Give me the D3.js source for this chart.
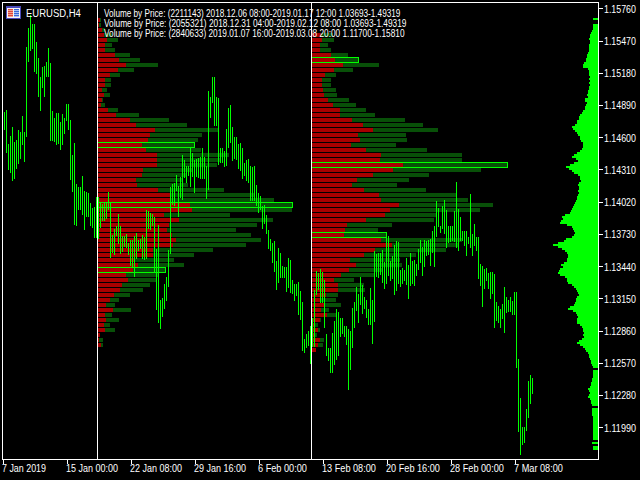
<!DOCTYPE html>
<html><head><meta charset="utf-8">
<style>html,body{margin:0;padding:0;background:#000;overflow:hidden}svg{display:block}</style>
<script src="https://cdn.jsdelivr.net/npm/d3@7/dist/d3.min.js"></script>
</head><body><svg id="c" width="640" height="480"></svg>
<script>
// OHLC bar extremes, price in points (1e-5)
const highs=[114827,114845,114539,114611,114692,114557,114575,114665,114647,114791,114647,115412,115583,115700,115619,115619,115457,115313,115142,115232,115241,115277,115403,115268,114836,114773,114818,114818,114737,114809,114773,114899,114899,114755,114440,114548,114179,114152,114152,114251,114116,114107,114098,114008,113963,113972,114062,
114062,114008,113999,114008,114008,114107,114008,113720,113774,113801,113909,113801,113711,113711,113729,113648,113675,113675,113711,113738,113675,113684,113720,113702,113945,113936,113918,113909,113882,113594,113810,113135,113153,113279,113342,113585,114152,114179,114188,114260,114161,114242,114440,114395,114341,114341,114503,114458,114395,114404,114413,114422,114503,114422,114341,115016,114962,115142,115142,114962,114953,114503,114503,114476,114674,114863,114890,114692,114602,114602,114539,114548,114503,114368,114395,114404,114341,114332,114341,114170,114098,114071,113981,113990,113900,113765,113684,113648,113666,113486,113603,113558,113441,113432,113432,113513,113495,113315,113279,113279,113297,113216,113117,112784,112829,112856,112901,112973,
113225,113396,113378,113414,113387,113315,112829,112703,112703,112838,112946,113054,113027,112973,112973,112901,112901,112874,112856,113063,113117,113252,113189,113342,113270,113162,113135,113054,113243,113135,113576,113549,113558,113558,113585,113477,113711,113711,113486,113531,113630,113666,113657,113405,113423,113405,113513,113450,113558,113486,113495,113459,113594,113675,113612,113675,113666,113675,113684,113756,113801,114026,113963,113801,113981,114035,113945,113801,113801,113801,113936,114197,113954,113882,113756,113756,113756,113702,114089,113729,113819,113702,113702,113459,113441,113414,113423,113378,113387,113387,113369,113117,113081,113054,113099,113252,113162,113135,113162,113126,113207,113207,112604,112253,111992,111992,112154,112406,112460,112433];
const lows=[114674,114467,114314,114287,114215,114233,114323,114368,114413,114539,114386,114611,115286,115385,115403,115196,115178,114971,114845,115052,114971,115151,115151,114575,114575,114566,114539,114548,114494,114539,114638,114755,114674,114224,114116,113819,113810,113954,113954,113909,113774,113891,113891,113810,113792,113702,113702,
113693,113792,113855,113855,113873,113954,113522,113567,113549,113720,113648,113558,113576,113621,113612,113549,113450,113441,113351,113513,113585,113603,113513,113504,113513,113783,113774,113810,113396,113054,112937,112883,112991,113063,113135,113261,113558,113999,113990,114125,113891,114062,114044,114242,114197,114260,114161,114251,114107,114251,114242,114233,114233,114233,114053,114134,114782,114917,114710,114710,114359,114377,114377,114341,114350,114512,114557,114395,114413,114404,114323,114305,114233,114260,114215,114197,114035,114035,114035,113990,113927,113954,113783,113828,113738,113603,113585,113477,113396,113234,113297,113342,113342,113342,113216,113252,113207,113198,113135,113180,113009,112964,112685,112667,112712,112730,112568,112721,
112721,113189,113234,113117,113117,112892,112640,112595,112487,112487,112559,112604,112640,112811,112838,112811,112739,112334,112514,112712,112892,113045,112937,113099,113018,113063,112982,112919,112919,112748,112946,113351,113342,113369,113297,113243,113288,113360,113315,113333,113189,113225,113288,113261,113288,113315,113279,113153,113270,113288,113270,113360,113414,113477,113360,113441,113540,113549,113450,113567,113441,113711,113801,113747,113783,113738,113612,113657,113666,113675,113666,113612,113585,113675,113675,113630,113540,113648,113612,113540,113630,113585,113333,113270,113081,113243,113315,113243,113153,113198,112892,112955,112937,112892,112973,112847,113027,113036,113036,113009,113009,112532,111956,111749,111839,111857,111965,112082,112208,112298];

// Volume-by-price profile 1 (red part and total per price level)
const profileARed=[2,1,4,6,9,7,7,17,21,28,20,12,7,7,4,6,4,3,10,18,32,38,57,52,50,44,48,59,59,59,45,44,38,39,60,72,72,92,94,66,81,71,69,74,78,75,55,55,37,40,35,28,30,24,22,16,12,8,15,7,8,6,7,2,1,3];
const profileATotal=[3,3,7,14,20,14,17,32,42,60,36,22,13,13,9,12,5,7,20,41,71,89,120,104,100,97,103,131,122,119,95,88,85,90,126,156,176,195,194,132,175,159,138,153,163,148,115,96,76,86,68,60,58,52,45,32,21,17,33,14,21,12,17,2,5,5];
// Volume-by-price profile 2
const profileBRed=[9,10,8,8,19,23,31,22,13,10,10,11,12,16,21,28,28,40,51,61,46,48,39,54,69,68,91,81,61,45,40,52,67,69,87,78,73,54,35,33,32,69,80,63,52,38,44,37,29,22,26,26,14,8,12,9,15,8,2,6,2,8,6,4];
const profileBTotal=[21,22,16,19,36,47,67,41,24,19,19,24,25,37,44,54,63,93,111,126,94,95,84,115,150,150,196,169,117,97,85,114,144,156,181,168,125,122,80,66,75,150,146,134,104,88,90,70,62,42,52,53,26,24,29,17,24,9,6,8,5,12,11,4];
// Point-of-control boxes: price points of highlighted levels
const boxesA=[114530,113990,113405], boxesB=[115295,114350,113720];
const boxesATotal=[97,195,68], boxesBTotal=[47,196,75];
const rowTopA=115655, rowTopB=115520, rowStep=45;

// Full-range volume profile on the right edge (one value per 18-point level)
const histTop=115673, histStep=18;
const histVolume=[5,0,0,5,5,5,6,7,8,8,9,8,8,9,9,9,9,10,11,11,12,12,14,15,15,10,9,9,9,8,9,8,9,8,9,9,10,10,11,10,13,13,11,12,13,13,15,16,18,19,19,21,21,23,26,25,23,21,20,18,18,17,15,15,15,16,18,21,24,26,22,20,24,28,32,29,26,24,20,18,18,17,19,20,19,19,20,19,20,21,21,22,23,24,25,26,27,28,33,36,35,37,38,31,26,25,24,23,24,26,32,34,40,45,40,36,33,31,30,30,31,31,34,37,35,38,39,40,38,33,31,31,30,26,24,22,21,20,19,21,22,22,23,24,28,30,25,22,21,20,21,21,21,18,16,15,15,14,15,14,16,19,21,18,15,13,12,10,9,9,8,7,7,6,5,0,5,5,5,5,6,6,7,7,8,10,9,8,9,10,8,7,7,6,0,6,6,6,6,5,5,5,5,5,5,5,5,5,5,5,5,0,6,0,5,5];

const priceTicks=[115760,115470,115180,114890,114600,114310,114020,113730,113440,113150,112860,112570,112280,111990];
const timeTickBars=[-1,31,63,95,127,159,191,223,255];
const timeLabels=["7 Jan 2019","15 Jan 00:00","22 Jan 08:00","29 Jan 16:00","6 Feb 00:00","13 Feb 08:00","20 Feb 16:00","28 Feb 00:00","7 Mar 08:00"];
const timeLabelWidths=[44,52,52,52,49,54,54,54,49];
const titleText="EURUSD,H4";
const legendLines=["Volume by Price: (2211143) 2018.12.06 08:00-2019.01.17 12:00 1.03693-1.49319","Volume by Price: (2055321) 2018.12.31 04:00-2019.02.12 08:00 1.03693-1.49319","Volume by Price: (2840633) 2019.01.07 16:00-2019.03.08 20:00 1.11700-1.15810"];
const legendWidths=[297,303,301];

const FONT='"Liberation Sans",Arial,sans-serif';
const GREEN="#00ff00",RED="#a80000",DARK="#085008",WHITE="#ffffff";
const svg=d3.select("#c");
const x=d3.scaleLinear().domain([0,264]).range([4,532]);
const y=d3.scaleLinear().domain([115760,111990]).range([8.33,427.2]);
const vol=d3.scaleLinear().domain([0,200]).range([0,200]);

// squeeze a text horizontally so that it fills the given width
function fit(node,px,py,width){
  const k=width/node.getComputedTextLength();
  d3.select(node).attr("x",0).attr("y",0).attr("transform",`translate(${px},${py}) scale(${k},1)`);
}

function profile(x0,top,reds,totals){
  const g=svg.append("g").attr("shape-rendering","crispEdges");
  const lv=d3.range(reds.length).map(i=>top-i*rowStep);
  g.selectAll(".t").data(lv).join("rect").attr("x",x0).attr("y",d=>Math.round(y(d))-2).attr("height",4)
    .attr("width",(d,i)=>vol(totals[i])).attr("fill",DARK);
  g.selectAll(".r").data(lv).join("rect").attr("x",x0).attr("y",d=>Math.round(y(d))-2).attr("height",4)
    .attr("width",(d,i)=>vol(reds[i])).attr("fill",RED);
}
profile(98,rowTopA,profileARed,profileATotal);
profile(312,rowTopB,profileBRed,profileBTotal);

// right histogram
const hg=svg.append("g").attr("shape-rendering","crispEdges");
hg.selectAll("rect").data(histVolume).join("rect")
  .attr("x",d=>598-vol(d)).attr("width",d=>vol(d))
  .attr("y",(d,i)=>Math.round(y(histTop-i*histStep))).attr("height",2).attr("fill",GREEN);

// highlight boxes
function boxes(x0,prices,totals){
  svg.append("g").attr("shape-rendering","crispEdges").selectAll("rect").data(prices).join("rect")
    .attr("x",x0-0.5).attr("y",d=>Math.round(y(d))-2.5).attr("height",5)
    .attr("width",(d,i)=>vol(totals[i])).attr("fill","none").attr("stroke",GREEN);
}
boxes(98,boxesA,boxesATotal);
boxes(312,boxesB,boxesBTotal);

// price bars
svg.append("g").attr("shape-rendering","crispEdges").selectAll("line").data(highs).join("line")
  .attr("x1",(d,i)=>x(i)+0.5).attr("x2",(d,i)=>x(i)+0.5)
  .attr("y1",d=>Math.round(y(d))).attr("y2",(d,i)=>Math.round(y(lows[i]))+1)
  .attr("stroke",GREEN).attr("stroke-width",1);

// frame and period separators
const fg=svg.append("g").attr("shape-rendering","crispEdges").attr("stroke",WHITE).attr("fill","none");
fg.append("rect").attr("x",2.5).attr("y",2.5).attr("width",596).attr("height",457);
[97.5,311.5].forEach(v=>fg.append("line").attr("x1",v).attr("x2",v).attr("y1",2).attr("y2",459));

// axes
const yAxis=d3.axisRight(y).tickValues(priceTicks).tickSize(4).tickPadding(1).tickFormat(d=>(d/1e5).toFixed(5));
const ya=svg.append("g").attr("transform","translate(599,0)").call(yAxis);
ya.select(".domain").remove();
ya.selectAll("line").attr("stroke",WHITE).attr("shape-rendering","crispEdges");
ya.selectAll("text").attr("fill",WHITE).attr("font-family",FONT).attr("font-size",11).attr("dy",null)
  .each(function(){fit(this,5,4,32);});

const xAxis=d3.axisBottom(x).tickValues(timeTickBars).tickSize(4).tickPadding(1).tickFormat((d,i)=>timeLabels[i]);
const xa=svg.append("g").attr("transform","translate(0.5,460)").call(xAxis);
xa.select(".domain").remove();
xa.selectAll("line").attr("stroke",WHITE).attr("shape-rendering","crispEdges");
xa.selectAll("text").attr("fill",WHITE).attr("font-family",FONT).attr("font-size",11).attr("text-anchor","start").attr("dy",null)
  .each(function(d,i){fit(this,-1,12,timeLabelWidths[i]);});

// title with window icon
const ic=svg.append("g").attr("shape-rendering","crispEdges");
ic.append("rect").attr("x",6).attr("y",6).attr("width",15).attr("height",13).attr("fill","#4a4ab8");
ic.append("rect").attr("x",7).attr("y",8).attr("width",13).attr("height",10).attr("fill","#f4f4f4");
ic.append("rect").attr("x",8).attr("y",9).attr("width",5).attr("height",8).attr("fill","#f4a090");
ic.append("rect").attr("x",14).attr("y",9).attr("width",5).attr("height",8).attr("fill","#a8c0f4");
d3.range(4).forEach(i=>{
  ic.append("rect").attr("x",8).attr("y",9+2*i).attr("width",5).attr("height",1).attr("fill","#e04838");
  ic.append("rect").attr("x",14).attr("y",9+2*i).attr("width",5).attr("height",1).attr("fill","#3868d8");
});
svg.append("text").attr("fill",WHITE).attr("font-family",FONT).attr("font-size",11).text(titleText)
  .each(function(){fit(this,26,16.5,55);});

// legend
svg.append("g").selectAll("text").data(legendLines).join("text")
  .attr("fill",WHITE).attr("font-family",FONT).attr("font-size",10).text(d=>d)
  .each(function(d,i){fit(this,104,16.5+10*i,legendWidths[i]);});
</script></body></html>
